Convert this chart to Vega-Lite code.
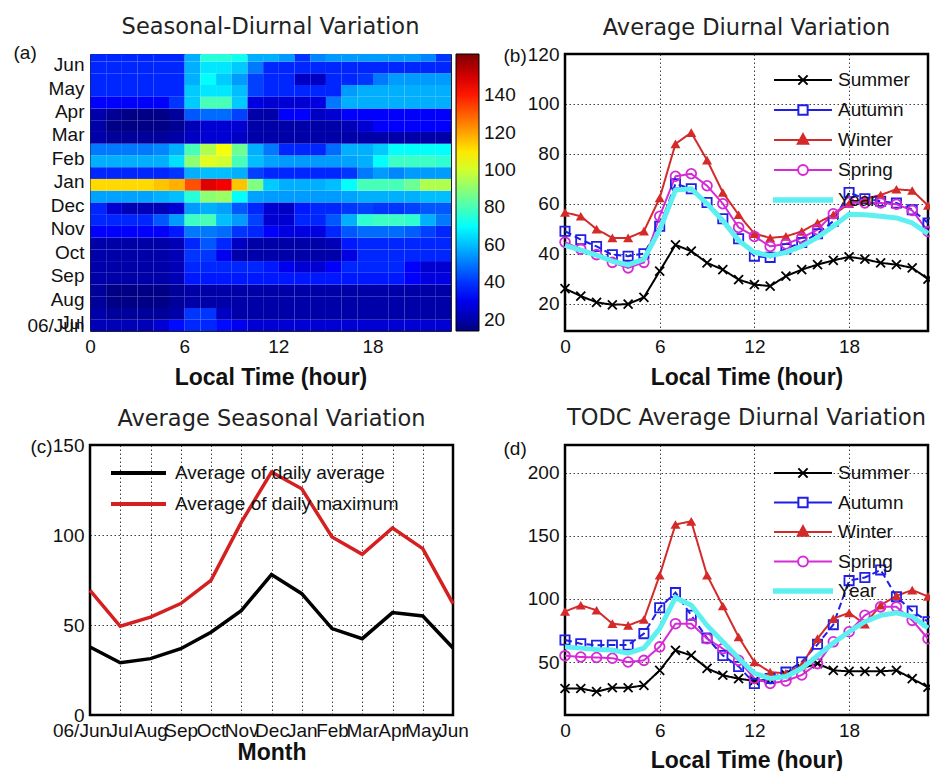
{
  "$schema": "https://vega.github.io/schema/vega-lite/v6.json",
  "background": "white",
  "padding": {"left": 12, "top": 15, "right": 2, "bottom": 2},
  "columns": 2,
  "bounds": "flush",
  "spacing": {"row": 114, "column": 112},
  "resolve": {
    "scale": {"color": "independent", "stroke": "independent", "fill": "independent", "shape": "independent", "strokeDash": "independent"},
    "legend": {"color": "independent", "stroke": "independent", "fill": "independent", "shape": "independent", "strokeDash": "independent"}
  },
  "config": {
    "font": "Liberation Sans",
    "view": {"stroke": "#000", "strokeWidth": 2.5},
    "axis": {"domain": false, "ticks": false, "grid": false, "labelFont": "Liberation Sans", "labelFontSize": 19, "labelColor": "#111", "labelPadding": 6, "labelOverlap": false, "labelFlush": false, "labelBound": false, "titleFont": "Liberation Sans", "titleFontSize": 23, "titleFontWeight": "bold", "titleColor": "#111", "gridColor": "#000", "gridDash": [1.5, 2.5], "gridOpacity": 0.75, "gridWidth": 1},
    "axisY": {"titleAngle": 0, "titleAlign": "left", "titleBaseline": "alphabetic", "titleFontSize": 19, "titleFontWeight": "normal"},
    "axisX": {"titleBaseline": "alphabetic", "titleY": 53},
    "title": {"font": "DejaVu Sans", "fontSize": 22.5, "fontWeight": "normal", "color": "#222", "anchor": "middle", "frame": "group", "baseline": "alphabetic"},
    "legend": {"labelFont": "Liberation Sans", "labelFontSize": 19, "labelColor": "#111", "padding": 0, "labelLimit": 400}
  },
  "concat": [
    {
      "width": 361, "height": 277,
      "view": {"stroke": "#222", "strokeWidth": 1},
      "title": {"text": "Seasonal-Diurnal Variation", "offset": 5},
      "data": {"name": "heat"},
      "mark": {"type": "rect", "clip": true, "binSpacing": 0},
      "encoding": {
        "x": {"field": "h", "type": "quantitative", "bin": {"step": 1, "extent": [0, 23]}, "scale": {"domain": [0, 23], "nice": false, "zero": false}, "axis": {"values": [0, 6, 12, 18], "format": "d", "title": "Local Time (hour)"}},
        "y": {"field": "m", "type": "quantitative", "bin": {"step": 0.5, "extent": [0, 12]}, "scale": {"domain": [0, 11.8], "nice": false, "zero": false}, "axis": {"values": [0.25, 0.35, 1.35, 2.35, 3.35, 4.35, 5.35, 6.35, 7.35, 8.35, 9.35, 10.35, 11.35], "labelExpr": "['06/Jun','Jul','Aug','Sep','Oct','Nov','Dec','Jan','Feb','Mar','Apr','May','Jun'][floor(datum.value + 0.7)]", "title": "(a)", "titleX": -77, "titleY": 4}},
        "color": {"field": "v", "type": "quantitative", "scale": {"domain": [14, 32.5, 69.5, 106.5, 143.5, 162], "range": ["#00007f", "#0000ff", "#00ffff", "#ffff00", "#ff0000", "#7f0000"], "interpolate": "rgb"}, "legend": {"type": "gradient", "orient": "right", "offset": 5, "direction": "vertical", "gradientLength": 277, "gradientThickness": 23, "title": null, "values": [20, 40, 60, 80, 100, 120, 140], "labelOffset": 5, "gradientStrokeColor": "#000", "gradientStrokeWidth": 1}}
      }
    },
    {
      "width": 363, "height": 277,
      "title": {"text": "Average Diurnal Variation", "offset": 6},
      "data": {"name": "diurnal"},
      "encoding": {
        "x": {"field": "hour", "type": "quantitative", "scale": {"domain": [0, 23], "nice": false, "zero": false}, "axis": {"values": [0, 6, 12, 18], "title": "Local Time (hour)", "grid": true}},
        "y": {"field": "value", "type": "quantitative", "scale": {"domain": [9, 120], "nice": false, "zero": false}, "axis": {"values": [20, 40, 60, 80, 100, 120], "title": "(b)", "titleX": -62, "titleY": 7, "grid": true}}
      },
      "layer": [
        {
          "transform": [{"filter": "datum.season !== 'Year'"}],
          "mark": {"type": "line", "strokeWidth": 2},
          "encoding": {
            "color": {"field": "season", "type": "nominal", "scale": {"domain": ["Summer", "Autumn", "Winter", "Spring"], "range": ["#000000", "#1f1fe6", "#d42a2a", "#d62ad6"]}, "legend": null},
            "strokeDash": {"field": "season", "type": "nominal", "scale": {"domain": ["Summer", "Autumn", "Winter", "Spring"], "range": [[1, 0], [7, 4], [1, 0], [1, 0]]}, "legend": null}
          }
        },
        {"transform": [{"filter": "datum.season === 'Summer'"}], "mark": {"type": "point", "shape": "M-1,-1L1,1M-1,1L1,-1", "color": "#000000", "filled": false, "size": 80, "strokeWidth": 1.8, "opacity": 1}},
        {"transform": [{"filter": "datum.season === 'Autumn'"}], "mark": {"type": "point", "shape": "square", "color": "#1f1fe6", "filled": false, "size": 85, "strokeWidth": 1.8, "opacity": 1}},
        {"transform": [{"filter": "datum.season === 'Winter'"}], "mark": {"type": "point", "shape": "triangle-up", "color": "#d42a2a", "filled": true, "size": 100, "opacity": 1}},
        {"transform": [{"filter": "datum.season === 'Spring'"}], "mark": {"type": "point", "shape": "circle", "color": "#d62ad6", "filled": false, "size": 95, "strokeWidth": 1.8, "opacity": 1}},
        {
          "transform": [{"filter": "datum.season === 'Year'"}],
          "mark": {"type": "line", "strokeWidth": 5, "color": "#5ef0f0"}
        },
        {
          "transform": [{"filter": "datum.hour === 0"}],
          "mark": {"type": "point", "filled": false, "opacity": 0},
          "encoding": {
            "stroke": {"field": "season", "type": "nominal", "scale": {"domain": ["Summer", "Autumn", "Winter", "Spring", "Year"], "range": ["#000000", "#1f1fe6", "#d42a2a", "#d62ad6", "#5ef0f0"]}, "legend": {"orient": "none", "legendX": 208, "legendY": 16, "title": null, "symbolSize": 3364, "clipHeight": 20, "rowPadding": 10, "labelOffset": 5, "symbolStrokeWidth": 2, "symbolOpacity": 1}},
            "shape": {"field": "season", "type": "nominal", "scale": {"domain": ["Summer", "Autumn", "Winter", "Spring", "Year"], "range": ["M-1,0H1M-0.16,-0.16L0.16,0.16M-0.16,0.16L0.16,-0.16", "M-1,0H-0.16M0.16,0H1M-0.16,-0.16H0.16V0.16H-0.16Z", "M-1,0H1M0,-0.2L0.18,0.13L-0.18,0.13Z", "M-1,0H-0.17M0.17,0H1M0.17,0A0.17,0.17,0,1,1,-0.17,0A0.17,0.17,0,1,1,0.17,0", "M-1,-0.06H1V0.06H-1Z"]}, "legend": {"orient": "none", "legendX": 208, "legendY": 16, "title": null, "symbolSize": 3364, "clipHeight": 20, "rowPadding": 10, "labelOffset": 5, "symbolStrokeWidth": 2, "symbolOpacity": 1}},
            "fill": {"field": "season", "type": "nominal", "scale": {"domain": ["Summer", "Autumn", "Winter", "Spring", "Year"], "range": ["transparent", "transparent", "#d42a2a", "transparent", "#5ef0f0"]}, "legend": {"orient": "none", "legendX": 208, "legendY": 16, "title": null, "symbolSize": 3364, "clipHeight": 20, "rowPadding": 10, "labelOffset": 5, "symbolStrokeWidth": 2, "symbolOpacity": 1}}
          }
        }
      ]
    },
    {
      "width": 363, "height": 270,
      "title": {"text": "Average Seasonal Variation", "offset": 6},
      "data": {"name": "seasonal"},
      "mark": {"type": "line", "strokeWidth": 3.5},
      "encoding": {
        "x": {"field": "month", "type": "quantitative", "scale": {"domain": [0, 12], "nice": false, "zero": false}, "axis": {"values": [0, 1, 2, 3, 4, 5, 6, 7, 8, 9, 10, 11, 12], "labelExpr": "['06/Jun','Jul','Aug','Sep','Oct','Nov','Dec','Jan','Feb','Mar','Apr','May','Jun'][datum.value]", "labelOffset": {"condition": {"test": "datum.value === 0", "value": -9}, "value": 0}, "title": "Month", "titleY": 44, "grid": true}},
        "y": {"field": "value", "type": "quantitative", "scale": {"domain": [0, 150], "nice": false}, "axis": {"values": [0, 50, 100, 150], "title": "(c)", "titleX": -60, "titleY": 7, "grid": true}},
        "color": {"field": "series", "type": "nominal", "scale": {"domain": ["Average of daily average", "Average of daily maximum"], "range": ["#000000", "#d42020"]}, "legend": {"orient": "none", "legendX": 19, "legendY": 18, "title": null, "symbolType": "stroke", "symbolSize": 3025, "symbolStrokeWidth": 4, "clipHeight": 20, "rowPadding": 11, "labelOffset": 7}}
      }
    },
    {
      "width": 363, "height": 270,
      "title": {"text": "TODC Average Diurnal Variation", "offset": 10},
      "data": {"name": "todc"},
      "encoding": {
        "x": {"field": "hour", "type": "quantitative", "scale": {"domain": [0, 23], "nice": false, "zero": false}, "axis": {"values": [0, 6, 12, 18], "title": "Local Time (hour)", "titleY": 52, "grid": true}},
        "y": {"field": "value", "type": "quantitative", "scale": {"domain": [8, 222], "nice": false, "zero": false}, "axis": {"values": [50, 100, 150, 200], "title": "(d)", "titleX": -62, "titleY": 9, "grid": true}}
      },
      "layer": [
        {
          "transform": [{"filter": "datum.season !== 'Year'"}],
          "mark": {"type": "line", "strokeWidth": 2},
          "encoding": {
            "color": {"field": "season", "type": "nominal", "scale": {"domain": ["Summer", "Autumn", "Winter", "Spring"], "range": ["#000000", "#1f1fe6", "#d42a2a", "#d62ad6"]}, "legend": null},
            "strokeDash": {"field": "season", "type": "nominal", "scale": {"domain": ["Summer", "Autumn", "Winter", "Spring"], "range": [[1, 0], [7, 4], [1, 0], [1, 0]]}, "legend": null}
          }
        },
        {"transform": [{"filter": "datum.season === 'Summer'"}], "mark": {"type": "point", "shape": "M-1,-1L1,1M-1,1L1,-1", "color": "#000000", "filled": false, "size": 80, "strokeWidth": 1.8, "opacity": 1}},
        {"transform": [{"filter": "datum.season === 'Autumn'"}], "mark": {"type": "point", "shape": "square", "color": "#1f1fe6", "filled": false, "size": 85, "strokeWidth": 1.8, "opacity": 1}},
        {"transform": [{"filter": "datum.season === 'Winter'"}], "mark": {"type": "point", "shape": "triangle-up", "color": "#d42a2a", "filled": true, "size": 100, "opacity": 1}},
        {"transform": [{"filter": "datum.season === 'Spring'"}], "mark": {"type": "point", "shape": "circle", "color": "#d62ad6", "filled": false, "size": 95, "strokeWidth": 1.8, "opacity": 1}},
        {
          "transform": [{"filter": "datum.season === 'Year'"}],
          "mark": {"type": "line", "strokeWidth": 5, "color": "#5ef0f0"}
        },
        {
          "transform": [{"filter": "datum.hour === 0"}],
          "mark": {"type": "point", "filled": false, "opacity": 0},
          "encoding": {
            "stroke": {"field": "season", "type": "nominal", "scale": {"domain": ["Summer", "Autumn", "Winter", "Spring", "Year"], "range": ["#000000", "#1f1fe6", "#d42a2a", "#d62ad6", "#5ef0f0"]}, "legend": {"orient": "none", "legendX": 208, "legendY": 18, "title": null, "symbolSize": 3364, "clipHeight": 20, "rowPadding": 9.5, "labelOffset": 5, "symbolStrokeWidth": 2, "symbolOpacity": 1}},
            "shape": {"field": "season", "type": "nominal", "scale": {"domain": ["Summer", "Autumn", "Winter", "Spring", "Year"], "range": ["M-1,0H1M-0.16,-0.16L0.16,0.16M-0.16,0.16L0.16,-0.16", "M-1,0H-0.16M0.16,0H1M-0.16,-0.16H0.16V0.16H-0.16Z", "M-1,0H1M0,-0.2L0.18,0.13L-0.18,0.13Z", "M-1,0H-0.17M0.17,0H1M0.17,0A0.17,0.17,0,1,1,-0.17,0A0.17,0.17,0,1,1,0.17,0", "M-1,-0.06H1V0.06H-1Z"]}, "legend": {"orient": "none", "legendX": 208, "legendY": 18, "title": null, "symbolSize": 3364, "clipHeight": 20, "rowPadding": 9.5, "labelOffset": 5, "symbolStrokeWidth": 2, "symbolOpacity": 1}},
            "fill": {"field": "season", "type": "nominal", "scale": {"domain": ["Summer", "Autumn", "Winter", "Spring", "Year"], "range": ["transparent", "transparent", "#d42a2a", "transparent", "#5ef0f0"]}, "legend": {"orient": "none", "legendX": 208, "legendY": 18, "title": null, "symbolSize": 3364, "clipHeight": 20, "rowPadding": 9.5, "labelOffset": 5, "symbolStrokeWidth": 2, "symbolOpacity": 1}}
          }
        }
      ]
    }
  ],
  "datasets": {
    "seasonal": [
      {"series": "Average of daily average", "month": 0, "value": 37.8},
      {"series": "Average of daily average", "month": 1, "value": 29},
      {"series": "Average of daily average", "month": 2, "value": 31.3},
      {"series": "Average of daily average", "month": 3, "value": 36.8},
      {"series": "Average of daily average", "month": 4, "value": 46},
      {"series": "Average of daily average", "month": 5, "value": 58},
      {"series": "Average of daily average", "month": 6, "value": 78},
      {"series": "Average of daily average", "month": 7, "value": 67.4},
      {"series": "Average of daily average", "month": 8, "value": 48},
      {"series": "Average of daily average", "month": 9, "value": 42.4},
      {"series": "Average of daily average", "month": 10, "value": 56.9},
      {"series": "Average of daily average", "month": 11, "value": 55},
      {"series": "Average of daily average", "month": 12, "value": 37.2},
      {"series": "Average of daily maximum", "month": 0, "value": 69.3},
      {"series": "Average of daily maximum", "month": 1, "value": 49.3},
      {"series": "Average of daily maximum", "month": 2, "value": 54.4},
      {"series": "Average of daily maximum", "month": 3, "value": 61.9},
      {"series": "Average of daily maximum", "month": 4, "value": 74.8},
      {"series": "Average of daily maximum", "month": 5, "value": 107},
      {"series": "Average of daily maximum", "month": 6, "value": 135},
      {"series": "Average of daily maximum", "month": 7, "value": 125.7},
      {"series": "Average of daily maximum", "month": 8, "value": 98.9},
      {"series": "Average of daily maximum", "month": 9, "value": 89.3},
      {"series": "Average of daily maximum", "month": 10, "value": 103.9},
      {"series": "Average of daily maximum", "month": 11, "value": 92.4},
      {"series": "Average of daily maximum", "month": 12, "value": 61.9}
    ],
    "diurnal": [
      {"season":"Summer","hour":0,"value":26},{"season":"Summer","hour":1,"value":23},{"season":"Summer","hour":2,"value":20.5},{"season":"Summer","hour":3,"value":19.5},{"season":"Summer","hour":4,"value":19.8},{"season":"Summer","hour":5,"value":22.5},{"season":"Summer","hour":6,"value":33},{"season":"Summer","hour":7,"value":43.5},{"season":"Summer","hour":8,"value":41},{"season":"Summer","hour":9,"value":36.3},{"season":"Summer","hour":10,"value":33.6},{"season":"Summer","hour":11,"value":29.6},{"season":"Summer","hour":12,"value":27.6},{"season":"Summer","hour":13,"value":27},{"season":"Summer","hour":14,"value":31},{"season":"Summer","hour":15,"value":33.6},{"season":"Summer","hour":16,"value":35.6},{"season":"Summer","hour":17,"value":37.3},{"season":"Summer","hour":18,"value":38.7},{"season":"Summer","hour":19,"value":37.8},{"season":"Summer","hour":20,"value":36.3},{"season":"Summer","hour":21,"value":35.6},{"season":"Summer","hour":22,"value":34.3},{"season":"Summer","hour":23,"value":29.8},
      {"season":"Autumn","hour":0,"value":49},{"season":"Autumn","hour":1,"value":45.6},{"season":"Autumn","hour":2,"value":42.9},{"season":"Autumn","hour":3,"value":39.6},{"season":"Autumn","hour":4,"value":39},{"season":"Autumn","hour":5,"value":40},{"season":"Autumn","hour":6,"value":51},{"season":"Autumn","hour":7,"value":68},{"season":"Autumn","hour":8,"value":66},{"season":"Autumn","hour":9,"value":60.5},{"season":"Autumn","hour":10,"value":54},{"season":"Autumn","hour":11,"value":46},{"season":"Autumn","hour":12,"value":39},{"season":"Autumn","hour":13,"value":38.5},{"season":"Autumn","hour":14,"value":42},{"season":"Autumn","hour":15,"value":44.5},{"season":"Autumn","hour":16,"value":48},{"season":"Autumn","hour":17,"value":53},{"season":"Autumn","hour":18,"value":64.5},{"season":"Autumn","hour":19,"value":62},{"season":"Autumn","hour":20,"value":61},{"season":"Autumn","hour":21,"value":60.3},{"season":"Autumn","hour":22,"value":57.6},{"season":"Autumn","hour":23,"value":52.3},
      {"season":"Winter","hour":0,"value":56.5},{"season":"Winter","hour":1,"value":55},{"season":"Winter","hour":2,"value":49.8},{"season":"Winter","hour":3,"value":46.3},{"season":"Winter","hour":4,"value":46.3},{"season":"Winter","hour":5,"value":49},{"season":"Winter","hour":6,"value":62.3},{"season":"Winter","hour":7,"value":84},{"season":"Winter","hour":8,"value":88.5},{"season":"Winter","hour":9,"value":77.5},{"season":"Winter","hour":10,"value":64.5},{"season":"Winter","hour":11,"value":55.6},{"season":"Winter","hour":12,"value":48},{"season":"Winter","hour":13,"value":46.3},{"season":"Winter","hour":14,"value":46.9},{"season":"Winter","hour":15,"value":48.9},{"season":"Winter","hour":16,"value":52.3},{"season":"Winter","hour":17,"value":55.6},{"season":"Winter","hour":18,"value":60},{"season":"Winter","hour":19,"value":62},{"season":"Winter","hour":20,"value":63.5},{"season":"Winter","hour":21,"value":65.8},{"season":"Winter","hour":22,"value":65.3},{"season":"Winter","hour":23,"value":59.3},
      {"season":"Spring","hour":0,"value":44.6},{"season":"Spring","hour":1,"value":41.8},{"season":"Spring","hour":2,"value":39.6},{"season":"Spring","hour":3,"value":36.5},{"season":"Spring","hour":4,"value":34.3},{"season":"Spring","hour":5,"value":36.5},{"season":"Spring","hour":6,"value":55},{"season":"Spring","hour":7,"value":71},{"season":"Spring","hour":8,"value":72},{"season":"Spring","hour":9,"value":67.2},{"season":"Spring","hour":10,"value":60},{"season":"Spring","hour":11,"value":50.5},{"season":"Spring","hour":12,"value":46.9},{"season":"Spring","hour":13,"value":42.9},{"season":"Spring","hour":14,"value":43.9},{"season":"Spring","hour":15,"value":46.3},{"season":"Spring","hour":16,"value":49.6},{"season":"Spring","hour":17,"value":56},{"season":"Spring","hour":18,"value":60.5},{"season":"Spring","hour":19,"value":60.3},{"season":"Spring","hour":20,"value":60.3},{"season":"Spring","hour":21,"value":59.8},{"season":"Spring","hour":22,"value":57.3},{"season":"Spring","hour":23,"value":48.9},
      {"season":"Year","hour":0,"value":43.3},{"season":"Year","hour":1,"value":41.4},{"season":"Year","hour":2,"value":39.4},{"season":"Year","hour":3,"value":37},{"season":"Year","hour":4,"value":35.5},{"season":"Year","hour":5,"value":37.8},{"season":"Year","hour":6,"value":49.6},{"season":"Year","hour":7,"value":65.5},{"season":"Year","hour":8,"value":66},{"season":"Year","hour":9,"value":60},{"season":"Year","hour":10,"value":53.2},{"season":"Year","hour":11,"value":45.3},{"season":"Year","hour":12,"value":40.5},{"season":"Year","hour":13,"value":39.2},{"season":"Year","hour":14,"value":40.5},{"season":"Year","hour":15,"value":43},{"season":"Year","hour":16,"value":46.5},{"season":"Year","hour":17,"value":51},{"season":"Year","hour":18,"value":55.8},{"season":"Year","hour":19,"value":55.6},{"season":"Year","hour":20,"value":55},{"season":"Year","hour":21,"value":54.3},{"season":"Year","hour":22,"value":52.3},{"season":"Year","hour":23,"value":48}
    ],
    "todc": [
      {"season":"Summer","hour":0,"value":29},{"season":"Summer","hour":1,"value":29},{"season":"Summer","hour":2,"value":26.5},{"season":"Summer","hour":3,"value":29.6},{"season":"Summer","hour":4,"value":29.6},{"season":"Summer","hour":5,"value":31.5},{"season":"Summer","hour":6,"value":43.4},{"season":"Summer","hour":7,"value":59.3},{"season":"Summer","hour":8,"value":55.2},{"season":"Summer","hour":9,"value":45},{"season":"Summer","hour":10,"value":39.5},{"season":"Summer","hour":11,"value":36.8},{"season":"Summer","hour":12,"value":35},{"season":"Summer","hour":13,"value":36},{"season":"Summer","hour":14,"value":40},{"season":"Summer","hour":15,"value":45},{"season":"Summer","hour":16,"value":48.7},{"season":"Summer","hour":17,"value":43.4},{"season":"Summer","hour":18,"value":42.6},{"season":"Summer","hour":19,"value":42.6},{"season":"Summer","hour":20,"value":42.6},{"season":"Summer","hour":21,"value":43.4},{"season":"Summer","hour":22,"value":36.8},{"season":"Summer","hour":23,"value":30},
      {"season":"Autumn","hour":0,"value":67.5},{"season":"Autumn","hour":1,"value":64.5},{"season":"Autumn","hour":2,"value":63.3},{"season":"Autumn","hour":3,"value":63.5},{"season":"Autumn","hour":4,"value":63.5},{"season":"Autumn","hour":5,"value":72.5},{"season":"Autumn","hour":6,"value":93},{"season":"Autumn","hour":7,"value":105},{"season":"Autumn","hour":8,"value":87},{"season":"Autumn","hour":9,"value":69},{"season":"Autumn","hour":10,"value":55.2},{"season":"Autumn","hour":11,"value":46.5},{"season":"Autumn","hour":12,"value":33},{"season":"Autumn","hour":13,"value":37},{"season":"Autumn","hour":14,"value":42},{"season":"Autumn","hour":15,"value":50},{"season":"Autumn","hour":16,"value":64},{"season":"Autumn","hour":17,"value":79.6},{"season":"Autumn","hour":18,"value":114.5},{"season":"Autumn","hour":19,"value":117},{"season":"Autumn","hour":20,"value":123},{"season":"Autumn","hour":21,"value":101.8},{"season":"Autumn","hour":22,"value":90.5},{"season":"Autumn","hour":23,"value":82},
      {"season":"Winter","hour":0,"value":90},{"season":"Winter","hour":1,"value":95},{"season":"Winter","hour":2,"value":91},{"season":"Winter","hour":3,"value":80.4},{"season":"Winter","hour":4,"value":79},{"season":"Winter","hour":5,"value":83.7},{"season":"Winter","hour":6,"value":118.8},{"season":"Winter","hour":7,"value":159},{"season":"Winter","hour":8,"value":161.5},{"season":"Winter","hour":9,"value":118.8},{"season":"Winter","hour":10,"value":94.4},{"season":"Winter","hour":11,"value":69.8},{"season":"Winter","hour":12,"value":50},{"season":"Winter","hour":13,"value":42},{"season":"Winter","hour":14,"value":41},{"season":"Winter","hour":15,"value":47.4},{"season":"Winter","hour":16,"value":68.5},{"season":"Winter","hour":17,"value":84.4},{"season":"Winter","hour":18,"value":89},{"season":"Winter","hour":19,"value":80},{"season":"Winter","hour":20,"value":95},{"season":"Winter","hour":21,"value":102.5},{"season":"Winter","hour":22,"value":107},{"season":"Winter","hour":23,"value":102},
      {"season":"Spring","hour":0,"value":55},{"season":"Spring","hour":1,"value":54},{"season":"Spring","hour":2,"value":53.6},{"season":"Spring","hour":3,"value":53},{"season":"Spring","hour":4,"value":50},{"season":"Spring","hour":5,"value":51.3},{"season":"Spring","hour":6,"value":62},{"season":"Spring","hour":7,"value":80.4},{"season":"Spring","hour":8,"value":80.4},{"season":"Spring","hour":9,"value":68.5},{"season":"Spring","hour":10,"value":60.6},{"season":"Spring","hour":11,"value":51.3},{"season":"Spring","hour":12,"value":37},{"season":"Spring","hour":13,"value":33},{"season":"Spring","hour":14,"value":35},{"season":"Spring","hour":15,"value":39.7},{"season":"Spring","hour":16,"value":48.7},{"season":"Spring","hour":17,"value":66},{"season":"Spring","hour":18,"value":74},{"season":"Spring","hour":19,"value":87},{"season":"Spring","hour":20,"value":93.7},{"season":"Spring","hour":21,"value":93.7},{"season":"Spring","hour":22,"value":83},{"season":"Spring","hour":23,"value":68.5},
      {"season":"Year","hour":0,"value":62},{"season":"Year","hour":1,"value":61},{"season":"Year","hour":2,"value":60},{"season":"Year","hour":3,"value":59.5},{"season":"Year","hour":4,"value":57},{"season":"Year","hour":5,"value":61},{"season":"Year","hour":6,"value":76.4},{"season":"Year","hour":7,"value":101},{"season":"Year","hour":8,"value":95},{"season":"Year","hour":9,"value":79},{"season":"Year","hour":10,"value":66},{"season":"Year","hour":11,"value":53},{"season":"Year","hour":12,"value":41},{"season":"Year","hour":13,"value":37},{"season":"Year","hour":14,"value":38.5},{"season":"Year","hour":15,"value":45},{"season":"Year","hour":16,"value":55},{"season":"Year","hour":17,"value":65},{"season":"Year","hour":18,"value":74},{"season":"Year","hour":19,"value":82},{"season":"Year","hour":20,"value":87},{"season":"Year","hour":21,"value":89},{"season":"Year","hour":22,"value":86},{"season":"Year","hour":23,"value":77}
    ],
    "heat": [
      {"h":0,"m":0,"v":22},{"h":1,"m":0,"v":22},{"h":2,"m":0,"v":22},{"h":3,"m":0,"v":22},{"h":4,"m":0,"v":26},{"h":5,"m":0,"v":34},{"h":6,"m":0,"v":38},{"h":7,"m":0,"v":38},{"h":8,"m":0,"v":34},{"h":9,"m":0,"v":30},{"h":10,"m":0,"v":26},{"h":11,"m":0,"v":26},{"h":12,"m":0,"v":26},{"h":13,"m":0,"v":26},{"h":14,"m":0,"v":26},{"h":15,"m":0,"v":26},{"h":16,"m":0,"v":26},{"h":17,"m":0,"v":26},{"h":18,"m":0,"v":26},{"h":19,"m":0,"v":26},{"h":20,"m":0,"v":26},{"h":21,"m":0,"v":26},{"h":22,"m":0,"v":26},
      {"h":0,"m":0.5,"v":20},{"h":1,"m":0.5,"v":18},{"h":2,"m":0.5,"v":18},{"h":3,"m":0.5,"v":18},{"h":4,"m":0.5,"v":18},{"h":5,"m":0.5,"v":20},{"h":6,"m":0.5,"v":40},{"h":7,"m":0.5,"v":40},{"h":8,"m":0.5,"v":24},{"h":9,"m":0.5,"v":20},{"h":10,"m":0.5,"v":20},{"h":11,"m":0.5,"v":20},{"h":12,"m":0.5,"v":20},{"h":13,"m":0.5,"v":20},{"h":14,"m":0.5,"v":20},{"h":15,"m":0.5,"v":20},{"h":16,"m":0.5,"v":20},{"h":17,"m":0.5,"v":20},{"h":18,"m":0.5,"v":20},{"h":19,"m":0.5,"v":20},{"h":20,"m":0.5,"v":20},{"h":21,"m":0.5,"v":20},{"h":22,"m":0.5,"v":20},
      {"h":0,"m":1,"v":18},{"h":1,"m":1,"v":15},{"h":2,"m":1,"v":15},{"h":3,"m":1,"v":15},{"h":4,"m":1,"v":15},{"h":5,"m":1,"v":18},{"h":6,"m":1,"v":20},{"h":7,"m":1,"v":20},{"h":8,"m":1,"v":20},{"h":9,"m":1,"v":20},{"h":10,"m":1,"v":20},{"h":11,"m":1,"v":20},{"h":12,"m":1,"v":20},{"h":13,"m":1,"v":20},{"h":14,"m":1,"v":20},{"h":15,"m":1,"v":20},{"h":16,"m":1,"v":20},{"h":17,"m":1,"v":20},{"h":18,"m":1,"v":20},{"h":19,"m":1,"v":20},{"h":20,"m":1,"v":20},{"h":21,"m":1,"v":20},{"h":22,"m":1,"v":20},
      {"h":0,"m":1.5,"v":18},{"h":1,"m":1.5,"v":15},{"h":2,"m":1.5,"v":15},{"h":3,"m":1.5,"v":15},{"h":4,"m":1.5,"v":15},{"h":5,"m":1.5,"v":18},{"h":6,"m":1.5,"v":20},{"h":7,"m":1.5,"v":20},{"h":8,"m":1.5,"v":20},{"h":9,"m":1.5,"v":20},{"h":10,"m":1.5,"v":20},{"h":11,"m":1.5,"v":20},{"h":12,"m":1.5,"v":20},{"h":13,"m":1.5,"v":20},{"h":14,"m":1.5,"v":20},{"h":15,"m":1.5,"v":20},{"h":16,"m":1.5,"v":20},{"h":17,"m":1.5,"v":20},{"h":18,"m":1.5,"v":20},{"h":19,"m":1.5,"v":20},{"h":20,"m":1.5,"v":20},{"h":21,"m":1.5,"v":20},{"h":22,"m":1.5,"v":20},
      {"h":0,"m":2,"v":20},{"h":1,"m":2,"v":20},{"h":2,"m":2,"v":20},{"h":3,"m":2,"v":20},{"h":4,"m":2,"v":20},{"h":5,"m":2,"v":22},{"h":6,"m":2,"v":36},{"h":7,"m":2,"v":36},{"h":8,"m":2,"v":36},{"h":9,"m":2,"v":36},{"h":10,"m":2,"v":36},{"h":11,"m":2,"v":36},{"h":12,"m":2,"v":36},{"h":13,"m":2,"v":36},{"h":14,"m":2,"v":36},{"h":15,"m":2,"v":36},{"h":16,"m":2,"v":36},{"h":17,"m":2,"v":36},{"h":18,"m":2,"v":36},{"h":19,"m":2,"v":36},{"h":20,"m":2,"v":32},{"h":21,"m":2,"v":28},{"h":22,"m":2,"v":28},
      {"h":0,"m":2.5,"v":20},{"h":1,"m":2.5,"v":20},{"h":2,"m":2.5,"v":20},{"h":3,"m":2.5,"v":20},{"h":4,"m":2.5,"v":20},{"h":5,"m":2.5,"v":22},{"h":6,"m":2.5,"v":38},{"h":7,"m":2.5,"v":38},{"h":8,"m":2.5,"v":38},{"h":9,"m":2.5,"v":38},{"h":10,"m":2.5,"v":38},{"h":11,"m":2.5,"v":36},{"h":12,"m":2.5,"v":30},{"h":13,"m":2.5,"v":26},{"h":14,"m":2.5,"v":26},{"h":15,"m":2.5,"v":32},{"h":16,"m":2.5,"v":38},{"h":17,"m":2.5,"v":38},{"h":18,"m":2.5,"v":38},{"h":19,"m":2.5,"v":38},{"h":20,"m":2.5,"v":32},{"h":21,"m":2.5,"v":26},{"h":22,"m":2.5,"v":26},
      {"h":0,"m":3,"v":20},{"h":1,"m":3,"v":20},{"h":2,"m":3,"v":20},{"h":3,"m":3,"v":20},{"h":4,"m":3,"v":20},{"h":5,"m":3,"v":22},{"h":6,"m":3,"v":40},{"h":7,"m":3,"v":40},{"h":8,"m":3,"v":30},{"h":9,"m":3,"v":20},{"h":10,"m":3,"v":20},{"h":11,"m":3,"v":20},{"h":12,"m":3,"v":20},{"h":13,"m":3,"v":20},{"h":14,"m":3,"v":20},{"h":15,"m":3,"v":20},{"h":16,"m":3,"v":28},{"h":17,"m":3,"v":38},{"h":18,"m":3,"v":38},{"h":19,"m":3,"v":38},{"h":20,"m":3,"v":38},{"h":21,"m":3,"v":38},{"h":22,"m":3,"v":38},
      {"h":0,"m":3.5,"v":20},{"h":1,"m":3.5,"v":20},{"h":2,"m":3.5,"v":20},{"h":3,"m":3.5,"v":20},{"h":4,"m":3.5,"v":20},{"h":5,"m":3.5,"v":22},{"h":6,"m":3.5,"v":38},{"h":7,"m":3.5,"v":45},{"h":8,"m":3.5,"v":38},{"h":9,"m":3.5,"v":24},{"h":10,"m":3.5,"v":20},{"h":11,"m":3.5,"v":20},{"h":12,"m":3.5,"v":20},{"h":13,"m":3.5,"v":20},{"h":14,"m":3.5,"v":20},{"h":15,"m":3.5,"v":22},{"h":16,"m":3.5,"v":36},{"h":17,"m":3.5,"v":38},{"h":18,"m":3.5,"v":38},{"h":19,"m":3.5,"v":38},{"h":20,"m":3.5,"v":38},{"h":21,"m":3.5,"v":38},{"h":22,"m":3.5,"v":38},
      {"h":0,"m":4,"v":32},{"h":1,"m":4,"v":32},{"h":2,"m":4,"v":32},{"h":3,"m":4,"v":32},{"h":4,"m":4,"v":32},{"h":5,"m":4,"v":36},{"h":6,"m":4,"v":50},{"h":7,"m":4,"v":50},{"h":8,"m":4,"v":48},{"h":9,"m":4,"v":40},{"h":10,"m":4,"v":38},{"h":11,"m":4,"v":32},{"h":12,"m":4,"v":28},{"h":13,"m":4,"v":28},{"h":14,"m":4,"v":28},{"h":15,"m":4,"v":38},{"h":16,"m":4,"v":45},{"h":17,"m":4,"v":48},{"h":18,"m":4,"v":48},{"h":19,"m":4,"v":48},{"h":20,"m":4,"v":46},{"h":21,"m":4,"v":42},{"h":22,"m":4,"v":38},
      {"h":0,"m":4.5,"v":38},{"h":1,"m":4.5,"v":38},{"h":2,"m":4.5,"v":38},{"h":3,"m":4.5,"v":38},{"h":4,"m":4.5,"v":45},{"h":5,"m":4.5,"v":55},{"h":6,"m":4.5,"v":78},{"h":7,"m":4.5,"v":80},{"h":8,"m":4.5,"v":60},{"h":9,"m":4.5,"v":55},{"h":10,"m":4.5,"v":42},{"h":11,"m":4.5,"v":26},{"h":12,"m":4.5,"v":26},{"h":13,"m":4.5,"v":38},{"h":14,"m":4.5,"v":38},{"h":15,"m":4.5,"v":45},{"h":16,"m":4.5,"v":58},{"h":17,"m":4.5,"v":76},{"h":18,"m":4.5,"v":78},{"h":19,"m":4.5,"v":78},{"h":20,"m":4.5,"v":76},{"h":21,"m":4.5,"v":58},{"h":22,"m":4.5,"v":50},
      {"h":0,"m":5,"v":38},{"h":1,"m":5,"v":26},{"h":2,"m":5,"v":22},{"h":3,"m":5,"v":22},{"h":4,"m":5,"v":22},{"h":5,"m":5,"v":26},{"h":6,"m":5,"v":55},{"h":7,"m":5,"v":58},{"h":8,"m":5,"v":56},{"h":9,"m":5,"v":45},{"h":10,"m":5,"v":38},{"h":11,"m":5,"v":26},{"h":12,"m":5,"v":24},{"h":13,"m":5,"v":36},{"h":14,"m":5,"v":38},{"h":15,"m":5,"v":38},{"h":16,"m":5,"v":40},{"h":17,"m":5,"v":42},{"h":18,"m":5,"v":40},{"h":19,"m":5,"v":40},{"h":20,"m":5,"v":42},{"h":21,"m":5,"v":45},{"h":22,"m":5,"v":45},
      {"h":0,"m":5.5,"v":56},{"h":1,"m":5.5,"v":56},{"h":2,"m":5.5,"v":56},{"h":3,"m":5.5,"v":56},{"h":4,"m":5.5,"v":58},{"h":5,"m":5.5,"v":60},{"h":6,"m":5.5,"v":75},{"h":7,"m":5.5,"v":90},{"h":8,"m":5.5,"v":92},{"h":9,"m":5.5,"v":70},{"h":10,"m":5.5,"v":56},{"h":11,"m":5.5,"v":55},{"h":12,"m":5.5,"v":55},{"h":13,"m":5.5,"v":55},{"h":14,"m":5.5,"v":55},{"h":15,"m":5.5,"v":55},{"h":16,"m":5.5,"v":56},{"h":17,"m":5.5,"v":58},{"h":18,"m":5.5,"v":58},{"h":19,"m":5.5,"v":58},{"h":20,"m":5.5,"v":58},{"h":21,"m":5.5,"v":60},{"h":22,"m":5.5,"v":60},
      {"h":0,"m":6,"v":112},{"h":1,"m":6,"v":112},{"h":2,"m":6,"v":112},{"h":3,"m":6,"v":112},{"h":4,"m":6,"v":115},{"h":5,"m":6,"v":118},{"h":6,"m":6,"v":132},{"h":7,"m":6,"v":148},{"h":8,"m":6,"v":145},{"h":9,"m":6,"v":115},{"h":10,"m":6,"v":88},{"h":11,"m":6,"v":62},{"h":12,"m":6,"v":58},{"h":13,"m":6,"v":58},{"h":14,"m":6,"v":58},{"h":15,"m":6,"v":60},{"h":16,"m":6,"v":70},{"h":17,"m":6,"v":80},{"h":18,"m":6,"v":80},{"h":19,"m":6,"v":80},{"h":20,"m":6,"v":85},{"h":21,"m":6,"v":95},{"h":22,"m":6,"v":95},
      {"h":0,"m":6.5,"v":38},{"h":1,"m":6.5,"v":38},{"h":2,"m":6.5,"v":38},{"h":3,"m":6.5,"v":38},{"h":4,"m":6.5,"v":38},{"h":5,"m":6.5,"v":40},{"h":6,"m":6.5,"v":58},{"h":7,"m":6.5,"v":60},{"h":8,"m":6.5,"v":60},{"h":9,"m":6.5,"v":58},{"h":10,"m":6.5,"v":42},{"h":11,"m":6.5,"v":38},{"h":12,"m":6.5,"v":38},{"h":13,"m":6.5,"v":38},{"h":14,"m":6.5,"v":38},{"h":15,"m":6.5,"v":38},{"h":16,"m":6.5,"v":40},{"h":17,"m":6.5,"v":50},{"h":18,"m":6.5,"v":55},{"h":19,"m":6.5,"v":52},{"h":20,"m":6.5,"v":55},{"h":21,"m":6.5,"v":55},{"h":22,"m":6.5,"v":55},
      {"h":0,"m":7,"v":58},{"h":1,"m":7,"v":58},{"h":2,"m":7,"v":58},{"h":3,"m":7,"v":58},{"h":4,"m":7,"v":58},{"h":5,"m":7,"v":65},{"h":6,"m":7,"v":90},{"h":7,"m":7,"v":102},{"h":8,"m":7,"v":100},{"h":9,"m":7,"v":80},{"h":10,"m":7,"v":60},{"h":11,"m":7,"v":56},{"h":12,"m":7,"v":55},{"h":13,"m":7,"v":55},{"h":14,"m":7,"v":55},{"h":15,"m":7,"v":55},{"h":16,"m":7,"v":56},{"h":17,"m":7,"v":58},{"h":18,"m":7,"v":70},{"h":19,"m":7,"v":78},{"h":20,"m":7,"v":78},{"h":21,"m":7,"v":78},{"h":22,"m":7,"v":76},
      {"h":0,"m":7.5,"v":50},{"h":1,"m":7.5,"v":50},{"h":2,"m":7.5,"v":50},{"h":3,"m":7.5,"v":50},{"h":4,"m":7.5,"v":52},{"h":5,"m":7.5,"v":58},{"h":6,"m":7.5,"v":80},{"h":7,"m":7.5,"v":95},{"h":8,"m":7.5,"v":105},{"h":9,"m":7.5,"v":85},{"h":10,"m":7.5,"v":58},{"h":11,"m":7.5,"v":50},{"h":12,"m":7.5,"v":38},{"h":13,"m":7.5,"v":38},{"h":14,"m":7.5,"v":38},{"h":15,"m":7.5,"v":48},{"h":16,"m":7.5,"v":58},{"h":17,"m":7.5,"v":58},{"h":18,"m":7.5,"v":62},{"h":19,"m":7.5,"v":70},{"h":20,"m":7.5,"v":70},{"h":21,"m":7.5,"v":70},{"h":22,"m":7.5,"v":70},
      {"h":0,"m":8,"v":20},{"h":1,"m":8,"v":18},{"h":2,"m":8,"v":18},{"h":3,"m":8,"v":18},{"h":4,"m":8,"v":18},{"h":5,"m":8,"v":20},{"h":6,"m":8,"v":24},{"h":7,"m":8,"v":26},{"h":8,"m":8,"v":26},{"h":9,"m":8,"v":24},{"h":10,"m":8,"v":20},{"h":11,"m":8,"v":20},{"h":12,"m":8,"v":20},{"h":13,"m":8,"v":20},{"h":14,"m":8,"v":20},{"h":15,"m":8,"v":20},{"h":16,"m":8,"v":20},{"h":17,"m":8,"v":20},{"h":18,"m":8,"v":20},{"h":19,"m":8,"v":20},{"h":20,"m":8,"v":20},{"h":21,"m":8,"v":20},{"h":22,"m":8,"v":20},
      {"h":0,"m":8.5,"v":20},{"h":1,"m":8.5,"v":15},{"h":2,"m":8.5,"v":15},{"h":3,"m":8.5,"v":15},{"h":4,"m":8.5,"v":15},{"h":5,"m":8.5,"v":17},{"h":6,"m":8.5,"v":22},{"h":7,"m":8.5,"v":26},{"h":8,"m":8.5,"v":26},{"h":9,"m":8.5,"v":26},{"h":10,"m":8.5,"v":20},{"h":11,"m":8.5,"v":20},{"h":12,"m":8.5,"v":20},{"h":13,"m":8.5,"v":20},{"h":14,"m":8.5,"v":20},{"h":15,"m":8.5,"v":20},{"h":16,"m":8.5,"v":22},{"h":17,"m":8.5,"v":26},{"h":18,"m":8.5,"v":32},{"h":19,"m":8.5,"v":32},{"h":20,"m":8.5,"v":32},{"h":21,"m":8.5,"v":32},{"h":22,"m":8.5,"v":32},
      {"h":0,"m":9,"v":20},{"h":1,"m":9,"v":17},{"h":2,"m":9,"v":15},{"h":3,"m":9,"v":15},{"h":4,"m":9,"v":15},{"h":5,"m":9,"v":18},{"h":6,"m":9,"v":45},{"h":7,"m":9,"v":48},{"h":8,"m":9,"v":48},{"h":9,"m":9,"v":42},{"h":10,"m":9,"v":20},{"h":11,"m":9,"v":20},{"h":12,"m":9,"v":32},{"h":13,"m":9,"v":32},{"h":14,"m":9,"v":24},{"h":15,"m":9,"v":26},{"h":16,"m":9,"v":32},{"h":17,"m":9,"v":32},{"h":18,"m":9,"v":32},{"h":19,"m":9,"v":32},{"h":20,"m":9,"v":32},{"h":21,"m":9,"v":32},{"h":22,"m":9,"v":32},
      {"h":0,"m":9.5,"v":32},{"h":1,"m":9.5,"v":32},{"h":2,"m":9.5,"v":32},{"h":3,"m":9.5,"v":32},{"h":4,"m":9.5,"v":32},{"h":5,"m":9.5,"v":40},{"h":6,"m":9.5,"v":62},{"h":7,"m":9.5,"v":80},{"h":8,"m":9.5,"v":80},{"h":9,"m":9.5,"v":62},{"h":10,"m":9.5,"v":28},{"h":11,"m":9.5,"v":26},{"h":12,"m":9.5,"v":26},{"h":13,"m":9.5,"v":26},{"h":14,"m":9.5,"v":28},{"h":15,"m":9.5,"v":50},{"h":16,"m":9.5,"v":58},{"h":17,"m":9.5,"v":58},{"h":18,"m":9.5,"v":58},{"h":19,"m":9.5,"v":58},{"h":20,"m":9.5,"v":58},{"h":21,"m":9.5,"v":58},{"h":22,"m":9.5,"v":58},
      {"h":0,"m":10,"v":38},{"h":1,"m":10,"v":38},{"h":2,"m":10,"v":38},{"h":3,"m":10,"v":38},{"h":4,"m":10,"v":38},{"h":5,"m":10,"v":38},{"h":6,"m":10,"v":62},{"h":7,"m":10,"v":66},{"h":8,"m":10,"v":66},{"h":9,"m":10,"v":60},{"h":10,"m":10,"v":42},{"h":11,"m":10,"v":38},{"h":12,"m":10,"v":38},{"h":13,"m":10,"v":38},{"h":14,"m":10,"v":38},{"h":15,"m":10,"v":38},{"h":16,"m":10,"v":55},{"h":17,"m":10,"v":58},{"h":18,"m":10,"v":58},{"h":19,"m":10,"v":58},{"h":20,"m":10,"v":58},{"h":21,"m":10,"v":58},{"h":22,"m":10,"v":58},
      {"h":0,"m":10.5,"v":38},{"h":1,"m":10.5,"v":38},{"h":2,"m":10.5,"v":38},{"h":3,"m":10.5,"v":38},{"h":4,"m":10.5,"v":38},{"h":5,"m":10.5,"v":38},{"h":6,"m":10.5,"v":58},{"h":7,"m":10.5,"v":70},{"h":8,"m":10.5,"v":62},{"h":9,"m":10.5,"v":55},{"h":10,"m":10.5,"v":42},{"h":11,"m":10.5,"v":38},{"h":12,"m":10.5,"v":38},{"h":13,"m":10.5,"v":24},{"h":14,"m":10.5,"v":24},{"h":15,"m":10.5,"v":38},{"h":16,"m":10.5,"v":38},{"h":17,"m":10.5,"v":40},{"h":18,"m":10.5,"v":50},{"h":19,"m":10.5,"v":55},{"h":20,"m":10.5,"v":55},{"h":21,"m":10.5,"v":55},{"h":22,"m":10.5,"v":55},
      {"h":0,"m":11,"v":38},{"h":1,"m":11,"v":38},{"h":2,"m":11,"v":38},{"h":3,"m":11,"v":38},{"h":4,"m":11,"v":38},{"h":5,"m":11,"v":38},{"h":6,"m":11,"v":58},{"h":7,"m":11,"v":66},{"h":8,"m":11,"v":66},{"h":9,"m":11,"v":62},{"h":10,"m":11,"v":50},{"h":11,"m":11,"v":38},{"h":12,"m":11,"v":38},{"h":13,"m":11,"v":38},{"h":14,"m":11,"v":38},{"h":15,"m":11,"v":38},{"h":16,"m":11,"v":38},{"h":17,"m":11,"v":38},{"h":18,"m":11,"v":38},{"h":19,"m":11,"v":38},{"h":20,"m":11,"v":38},{"h":21,"m":11,"v":38},{"h":22,"m":11,"v":38},
      {"h":0,"m":11.5,"v":38},{"h":1,"m":11.5,"v":38},{"h":2,"m":11.5,"v":38},{"h":3,"m":11.5,"v":38},{"h":4,"m":11.5,"v":38},{"h":5,"m":11.5,"v":38},{"h":6,"m":11.5,"v":58},{"h":7,"m":11.5,"v":75},{"h":8,"m":11.5,"v":75},{"h":9,"m":11.5,"v":72},{"h":10,"m":11.5,"v":58},{"h":11,"m":11.5,"v":58},{"h":12,"m":11.5,"v":55},{"h":13,"m":11.5,"v":40},{"h":14,"m":11.5,"v":52},{"h":15,"m":11.5,"v":55},{"h":16,"m":11.5,"v":55},{"h":17,"m":11.5,"v":55},{"h":18,"m":11.5,"v":55},{"h":19,"m":11.5,"v":55},{"h":20,"m":11.5,"v":55},{"h":21,"m":11.5,"v":52},{"h":22,"m":11.5,"v":40}
    ]
  }
}
